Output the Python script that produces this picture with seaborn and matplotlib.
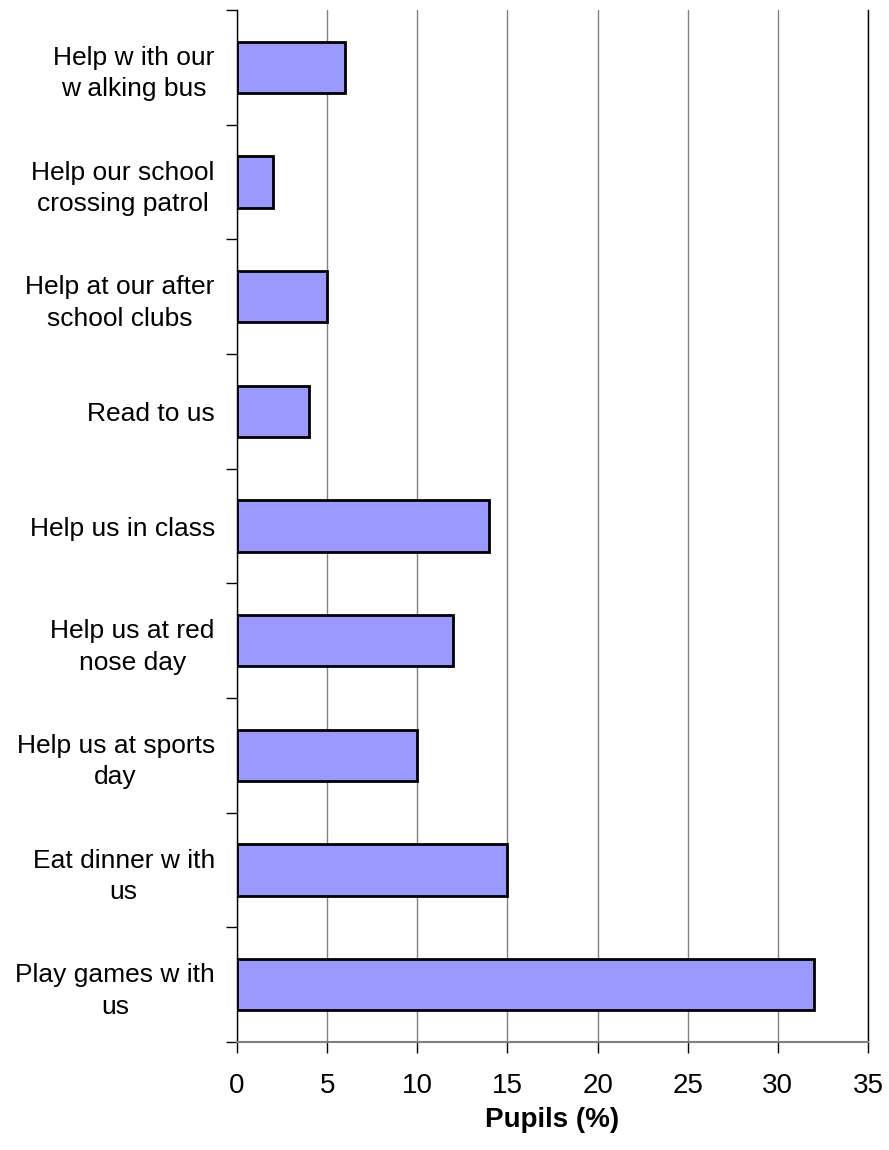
import matplotlib
matplotlib.use("Agg")
import matplotlib.pyplot as plt
import seaborn as sns
import numpy as np
import pandas as pd

categories = [
    "Help w ith our\nw alking bus",
    "Help our school\ncrossing patrol",
    "Help at our after\nschool clubs",
    "Read to us",
    "Help us in class",
    "Help us at red\nnose day",
    "Help us at sports\nday",
    "Eat dinner w ith\nus",
    "Play games w ith\nus",
]
values = [6, 2, 5, 4, 14, 12, 10, 15, 32]
x_ticks = [0, 5, 10, 15, 20, 25, 30, 35]

sns.set_style("white")
plt.rcParams["font.family"] = ["Liberation Sans", "DejaVu Sans"]
plt.rcParams["text.color"] = "black"
plt.rcParams["xtick.color"] = "black"
plt.rcParams["ytick.color"] = "black"
plt.rcParams["axes.labelcolor"] = "black"

df = pd.DataFrame({"category": categories, "value": values})

fig = plt.figure(figsize=(8.89, 11.5), dpi=100)
ax = fig.add_axes([0.2666, 0.0939, 0.7098, 0.8974])

sns.barplot(data=df, x="value", y="category", orient="h", color="#9999FF",
            saturation=1, width=0.45, edgecolor="black", linewidth=2, ax=ax,
            zorder=3)

ax.set_xlim(0, 35)
ax.set_ylim(len(categories) - 0.5, -0.5)
ax.set_xticks(x_ticks)
ax.set_xticklabels([str(t) for t in x_ticks], fontsize=20)
ax.xaxis.grid(True, color="#808080", linewidth=1, zorder=0)
ax.set_axisbelow(True)

ax.set_yticks(range(len(categories)))
ax.set_yticklabels(categories, fontsize=19, ha="right", multialignment="center",
                   linespacing=1.4)
ax.tick_params(axis="y", which="major", left=False, length=0, pad=16)
ax.set_yticks(np.arange(-0.5, len(categories), 1.0), minor=True)
ax.tick_params(axis="y", which="minor", left=True, length=8, width=1,
               color="black", direction="out")
ax.tick_params(axis="x", which="major", bottom=True, length=8, width=1,
               color="black", direction="out", pad=14)

ax.spines["top"].set_visible(False)
ax.spines["right"].set_visible(True)
ax.spines["right"].set_color("black")
ax.spines["right"].set_linewidth(1)
ax.spines["left"].set_color("black")
ax.spines["left"].set_linewidth(1)
ax.spines["bottom"].set_color("#808080")
ax.spines["bottom"].set_linewidth(1.5)

ax.set_ylabel("")
ax.set_xlabel("Pupils (%)", fontsize=20, fontweight="bold", labelpad=6)

fig.savefig("out.png", dpi=100)
